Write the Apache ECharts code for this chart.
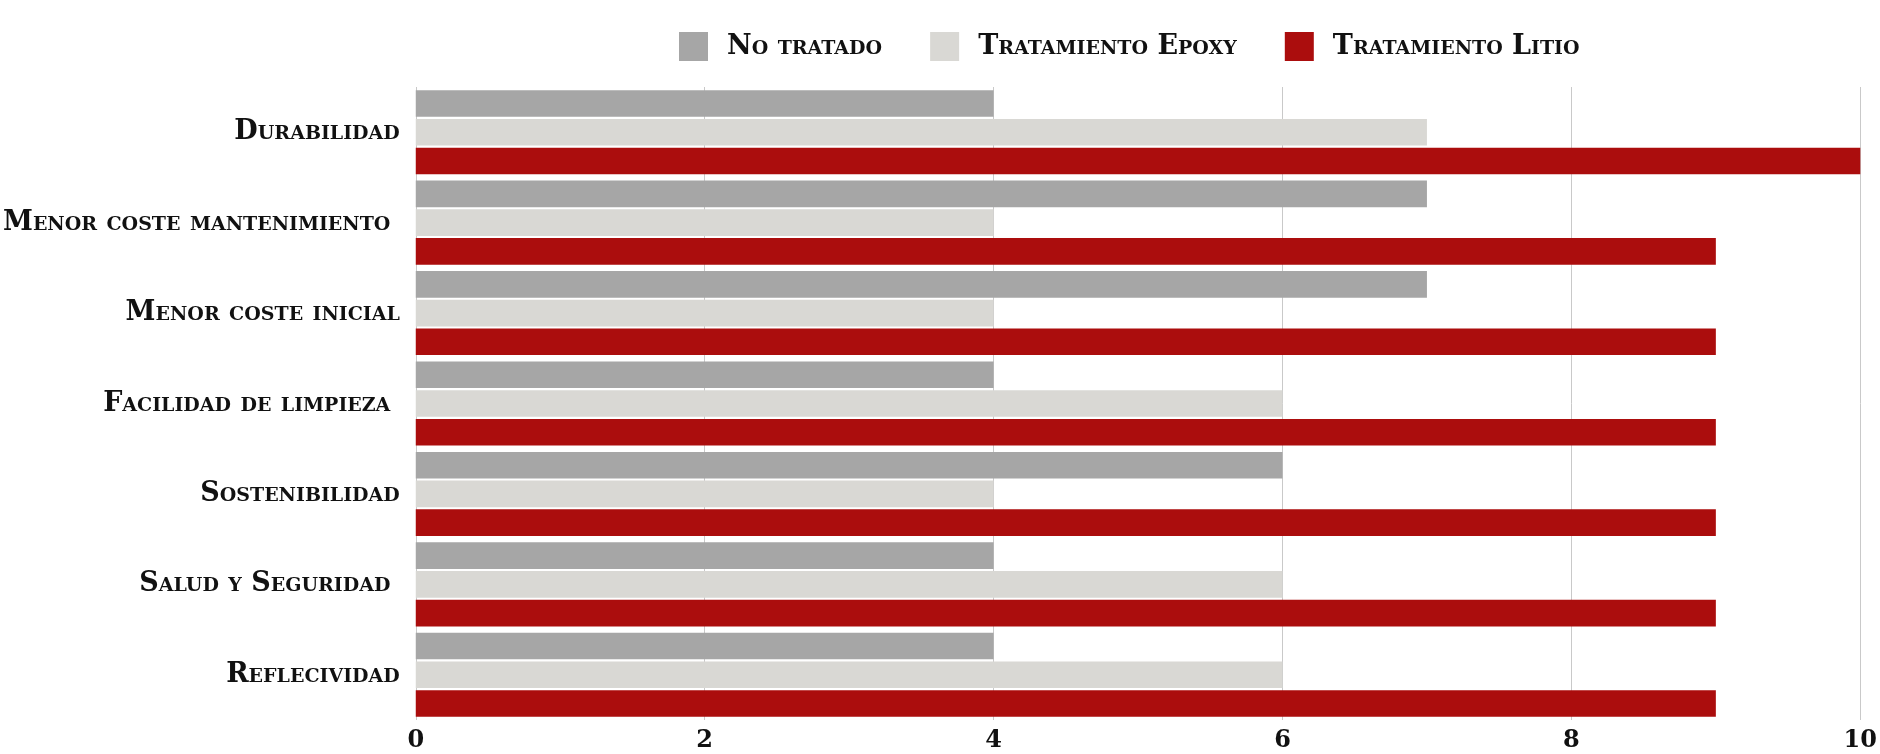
<!DOCTYPE html>
<html>
<head>
<meta charset="utf-8">
<script src="https://cdn.jsdelivr.net/npm/echarts@6/dist/echarts.min.js"></script>
<style>
  html, body { margin: 0; padding: 0; background: #fff; }
  #chart { width: 1880px; height: 754px; }
</style>
</head>
<body>
<div id="chart"></div>
<script>
const categories = [
  'Durabilidad',
  'Menor coste mantenimiento ',
  'Menor coste inicial',
  'Facilidad de limpieza ',
  'Sostenibilidad',
  'Salud y Seguridad ',
  'Reflecividad'
]
const noTratado = [4, 7, 7, 4, 6, 4, 4]
const epoxy = [7, 4, 4, 6, 4, 6, 6]
const litio = [10, 9, 9, 9, 9, 9, 9]
const xTicks = [0, 2, 4, 6, 8, 10]

const font = "'DejaVu Serif', 'Liberation Serif', serif"
const chart = echarts.init(document.getElementById('chart'))

chart.setOption({
  backgroundColor: '#ffffff',
  animation: false,
  legend: {
    left: 674,
    top: 27,
    itemWidth: 29,
    itemHeight: 29,
    itemGap: 48,
    icon: 'rect',
    textStyle: {
      fontFamily: font,
      fontStyle: 'small-caps',
      fontWeight: 'bold',
      fontSize: 27,
      color: '#111',
      padding: [0, 0, 0, 14]
    }
  },
  grid: { left: 415, right: 15, top: 87, bottom: 34, containLabel: false },
  xAxis: {
    type: 'value',
    min: xTicks[0],
    max: xTicks[xTicks.length - 1],
    interval: 2,
    axisLine: { show: false },
    axisTick: { show: false },
    axisLabel: {
      margin: 9,
      fontFamily: font,
      fontWeight: 'bold',
      fontSize: 24,
      color: '#111'
    },
    splitLine: { show: true, lineStyle: { color: '#c9c9c9', width: 1 } }
  },
  yAxis: {
    type: 'category',
    data: categories,
    inverse: true,
    axisLine: { show: false },
    axisTick: { show: false },
    axisLabel: {
      margin: 16,
      fontFamily: font,
      fontStyle: 'small-caps',
      fontWeight: 'bold',
      fontSize: 27,
      color: '#111'
    }
  },
  series: [
    { name: 'No tratado', type: 'bar', data: noTratado, itemStyle: { color: '#a6a6a6' }, barGap: '8%', barCategoryGap: '7%' },
    { name: 'Tratamiento Epoxy', type: 'bar', data: epoxy, itemStyle: { color: '#d9d8d4' } },
    { name: 'Tratamiento Litio', type: 'bar', data: litio, itemStyle: { color: '#ab0d0d' } }
  ]
})
</script>
</body>
</html>
